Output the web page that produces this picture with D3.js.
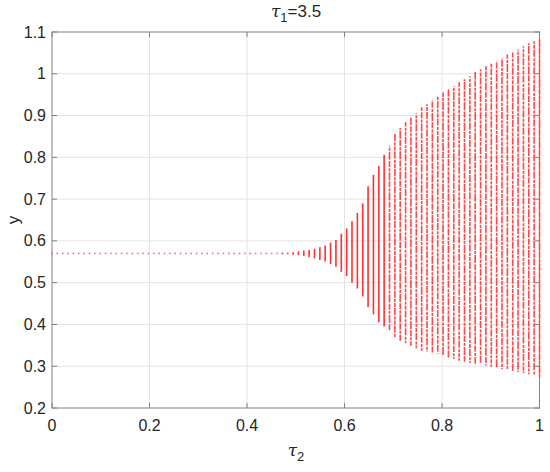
<!DOCTYPE html>
<html>
<head>
<meta charset="utf-8">
<script src="https://cdn.jsdelivr.net/npm/d3@7"></script>
<style>
  html, body { margin: 0; padding: 0; background: #fff; }
  svg { display: block; font-family: "Liberation Sans", Arial, sans-serif; }
</style>
</head>
<body>
<svg id="chart" width="550" height="472"></svg>
<script>
// ---- data ----
const tau2Min = 0, tau2Max = 1, nCols = 92;        // sampled tau2 grid: linspace(0,1,92)
const colIndex = d3.range(nCols);
// upper envelope of y for each tau2 column (k = 0..91)
const yUpper = [
  0.571,0.571,0.571,0.571,0.571,0.571,0.571,0.571,0.571,0.571,
  0.571,0.571,0.571,0.571,0.571,0.571,0.571,0.571,0.571,0.571,
  0.571,0.571,0.571,0.571,0.571,0.571,0.571,0.571,0.571,0.571,
  0.571,0.571,0.571,0.571,0.571,0.571,0.571,0.571,0.571,0.571,
  0.571,0.571,0.571,0.572,0.572,0.573,0.575,0.577,0.578,0.581,
  0.585,0.589,0.596,0.602,0.617,0.630,0.647,0.667,0.690,0.731,
  0.758,0.779,0.806,0.828,0.857,0.870,0.884,0.895,0.906,0.920,
  0.927,0.937,0.945,0.955,0.965,0.971,0.980,0.987,0.994,1.004,
  1.011,1.018,1.024,1.031,1.037,1.046,1.051,1.058,1.066,1.073,
  1.078,1.082
];
// lower envelope of y for each tau2 column
const yLower = [
  0.569,0.569,0.569,0.569,0.569,0.569,0.569,0.569,0.569,0.569,
  0.569,0.569,0.569,0.569,0.569,0.569,0.569,0.569,0.569,0.569,
  0.569,0.569,0.569,0.569,0.569,0.569,0.569,0.569,0.569,0.569,
  0.569,0.569,0.569,0.569,0.569,0.569,0.569,0.569,0.569,0.569,
  0.569,0.569,0.569,0.568,0.568,0.567,0.566,0.564,0.561,0.558,
  0.554,0.551,0.545,0.538,0.526,0.516,0.500,0.486,0.467,0.442,
  0.424,0.405,0.395,0.385,0.367,0.361,0.355,0.349,0.343,0.337,
  0.335,0.331,0.329,0.325,0.320,0.317,0.313,0.311,0.308,0.306,
  0.305,0.302,0.299,0.295,0.293,0.291,0.289,0.286,0.284,0.281,
  0.279,0.275
];
const xTicks = [0, 0.2, 0.4, 0.6, 0.8, 1];
const yTicks = [0.2, 0.3, 0.4, 0.5, 0.6, 0.7, 0.8, 0.9, 1, 1.1];
const titleMain = "τ", titleSub = "1", titleRest = "=3.5";
const xLabelMain = "τ", xLabelSub = "2";
const yLabel = "y";

// ---- layout ----
const svg = d3.select("#chart");
const L = 52, R = 539.5, T = 32, B = 408;
const x = d3.scaleLinear().domain([0, 1]).range([L, R]);
const y = d3.scaleLinear().domain([0.2, 1.1]).range([B, T]);
const tau2 = k => tau2Min + (tau2Max - tau2Min) * k / (nCols - 1);

const axisColor = "#808080", textColor = "#262626", gridColor = "#e3e3e3";

// grid
const g = svg.append("g");
g.selectAll(".gx").data(xTicks.slice(1, -1)).enter().append("line")
  .attr("x1", d => x(d)).attr("x2", d => x(d)).attr("y1", T).attr("y2", B)
  .attr("stroke", gridColor).attr("stroke-width", 1);
g.selectAll(".gy").data(yTicks.slice(1, -1)).enter().append("line")
  .attr("y1", d => y(d)).attr("y2", d => y(d)).attr("x1", L).attr("x2", R)
  .attr("stroke", gridColor).attr("stroke-width", 1);

// data columns
const marks = svg.append("g");
colIndex.forEach(k => {
  const lo = yLower[k], hi = yUpper[k];
  const px = x(tau2(k));
  if (hi - lo < 0.004) {
    marks.append("rect")
      .attr("x", px - 0.8).attr("y", y((hi + lo) / 2) - 0.8)
      .attr("width", 1.6).attr("height", 1.6)
      .attr("fill", "#ff3b3b").attr("opacity", 0.75);
  } else {
    const ln = marks.append("line")
      .attr("x1", px).attr("x2", px)
      .attr("y1", y(hi)).attr("y2", y(lo))
      .attr("stroke", "#ff1a1a").attr("stroke-width", 1.6);
    if (k >= 63) {
      ln.attr("stroke-dasharray", (k % 2 ? "6 1.2 3 1 8 1.2" : "4 1 7 1.4 3 1"))
        .attr("stroke-dashoffset", k * 1.7)
        .attr("opacity", 0.8);
    } else {
      ln.attr("opacity", 0.9);
    }
  }
});

// box axes
const box = svg.append("g").attr("stroke", axisColor).attr("stroke-width", 1).attr("fill", "none");
box.append("rect").attr("x", L).attr("y", T).attr("width", R - L).attr("height", B - T);
const tl = 5;
xTicks.forEach(t => {
  box.append("line").attr("x1", x(t)).attr("x2", x(t)).attr("y1", B).attr("y2", B - tl);
  box.append("line").attr("x1", x(t)).attr("x2", x(t)).attr("y1", T).attr("y2", T + tl);
});
yTicks.forEach(t => {
  box.append("line").attr("y1", y(t)).attr("y2", y(t)).attr("x1", L).attr("x2", L + tl);
  box.append("line").attr("y1", y(t)).attr("y2", y(t)).attr("x1", R).attr("x2", R - tl);
});

// tick labels
const fmt = d => String(d);
svg.append("g").selectAll("text").data(xTicks).enter().append("text")
  .attr("x", d => x(d)).attr("y", 431).attr("text-anchor", "middle")
  .attr("font-size", 16).attr("fill", textColor).text(fmt);
svg.append("g").selectAll("text").data(yTicks).enter().append("text")
  .attr("x", 46).attr("y", d => y(d) + 5.5).attr("text-anchor", "end")
  .attr("font-size", 16).attr("fill", textColor).text(fmt);

// title
const title = svg.append("text").attr("x", 296).attr("y", 17).attr("text-anchor", "middle")
  .attr("font-size", 17).attr("fill", textColor);
title.append("tspan").attr("font-style", "italic").attr("font-family", "DejaVu Serif, serif").text(titleMain);
title.append("tspan").attr("font-size", 13).attr("dy", 5).text(titleSub);
title.append("tspan").attr("dy", -5).text(titleRest);

// x label
const xl = svg.append("text").attr("x", 296).attr("y", 456).attr("text-anchor", "middle")
  .attr("font-size", 17).attr("fill", textColor);
xl.append("tspan").attr("font-style", "italic").attr("font-family", "DejaVu Serif, serif").text(xLabelMain);
xl.append("tspan").attr("font-size", 13).attr("dy", 5).text(xLabelSub);

// y label
svg.append("text").attr("transform", "translate(19,220) rotate(-90)")
  .attr("text-anchor", "middle").attr("font-size", 17).attr("fill", textColor).text(yLabel);
</script>
</body>
</html>
